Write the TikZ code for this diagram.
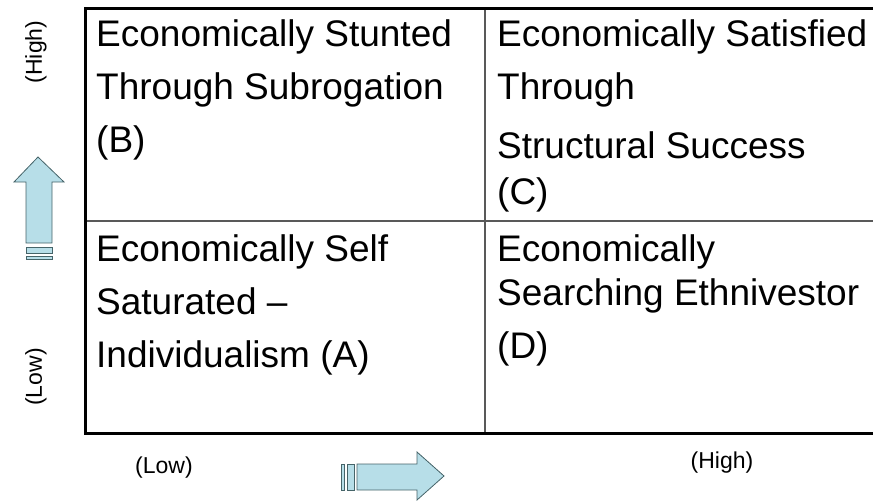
\documentclass[tikz,border=0pt]{standalone}
\usepackage{fontspec}
\setmainfont{Liberation Sans}

\definecolor{arrowfill}{RGB}{183,222,232}
\definecolor{arrowline}{RGB}{70,100,105}

\tikzset{
  cell/.style={anchor=north west, inner sep=0pt, align=left,
    font=\fontsize{37}{53}\selectfont},
  axislabel/.style={inner sep=0pt, font=\fontsize{23}{27}\selectfont},
  frameline/.style={line width=3pt, black},
  gridline/.style={line width=1.5pt, black!65},
  bigarrow/.style={fill=arrowfill, draw=arrowline, line width=0.8pt, line join=miter}
}

\begin{document}
\begin{tikzpicture}[x=1pt, y=-1pt]
            \useasboundingbox (0,0) rectangle (873,501);
            \coordinate (TL) at (85,8);
            \coordinate (TR) at (873,8);
            \coordinate (BL) at (85,433);
            \coordinate (BR) at (873,433);
            \coordinate (MT) at (485,8);
            \coordinate (MB) at (485,433);
            \coordinate (ML) at (85,221);
            \coordinate (MR) at (873,221);

            % quadrant grid
            \draw[gridline] (MT) -- (MB);
            \draw[gridline] (ML) -- (MR);
            \draw[frameline] (TR) -- (TL) -- (BL) -- (BR);

            % quadrant texts
            \node[cell] (cellB) at (96,19) {Economically Stunted\\Through Subrogation\\(B)};
            \node[cell] (cellC) at (497,19) {Economically Satisfied\\Through\\[6pt]Structural Success\\[-7pt](C)};
            \node[cell] (cellA) at (96,234) {Economically Self\\Saturated --\\Individualism (A)};
            \node[cell] (cellD) at (497,234) {Economically\\[-9pt]Searching Ethnivestor\\(D)};

            % axis labels
            \node[axislabel, rotate=90] (highV) at (36,52) {(High)};
            \node[axislabel, rotate=90] (lowV) at (36,377) {(Low)};
            \node[axislabel] (lowH) at (164,468) {(Low)};
            \node[axislabel] (highH) at (722,463) {(High)};

            % vertical arrow
            \draw[bigarrow] (26,243) -- (26,182) -- (14,182) -- (38,157) -- (64,182) -- (52,182) -- (52,243) -- cycle;
            \draw[bigarrow] (26,247) rectangle (52,253);
            \draw[bigarrow] (26,256) rectangle (52,259);

            % horizontal arrow
            \draw[bigarrow] (357,464) -- (417,464) -- (417,452) -- (444,476) -- (417,500) -- (417,490) -- (357,490) -- cycle;
            \draw[bigarrow] (347,464) rectangle (354,490);
            \draw[bigarrow] (341,464) rectangle (344,490);
\end{tikzpicture}
\end{document}
